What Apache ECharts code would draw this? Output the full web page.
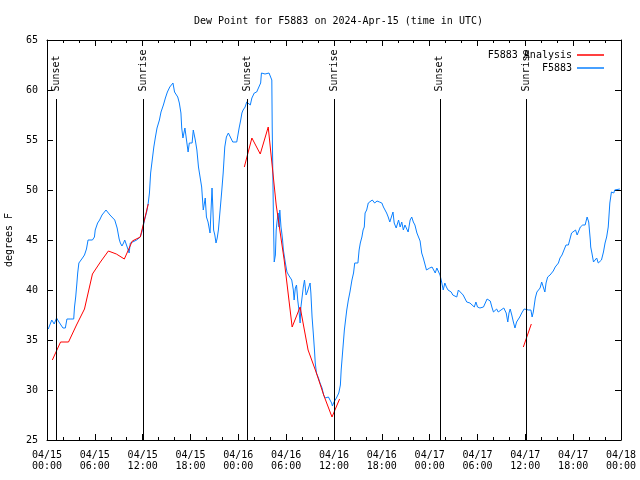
<!DOCTYPE html>
<html>
<head>
<meta charset="utf-8">
<script src="https://cdn.jsdelivr.net/npm/echarts@6/dist/echarts.min.js"></script>
<style>html,body{margin:0;padding:0;background:#fff}#c{width:640px;height:480px}</style>
</head>
<body>
<div id="c"></div>
<script>
// Hours since 2024-04-15 00:00 UTC
const obsHours = [0.16,0.4,0.6,0.9,1.2,1.5,1.75,2.0,2.3,2.5,2.9,3.35,3.45,3.6,3.75,3.85,4.0,4.2,4.45,4.7,4.95,5.15,5.4,5.7,5.95,6.05,6.35,6.6,6.9,7.4,7.9,8.5,8.8,9.05,9.2,9.4,9.6,9.75,9.95,10.1,10.3,10.45,10.75,11.25,11.7,11.9,12.1,12.3,12.5,12.7,12.85,13.0,13.2,13.4,13.6,13.8,14.1,14.3,14.6,14.85,15.1,15.4,15.8,16.0,16.2,16.4,16.6,16.8,16.9,17.05,17.2,17.3,17.4,17.5,17.7,17.85,18.0,18.2,18.35,18.45,18.6,18.8,19.0,19.2,19.4,19.6,19.75,19.85,20.0,20.2,20.45,20.7,20.8,20.9,21.05,21.2,21.35,21.5,21.7,21.9,22.1,22.3,22.5,22.75,23.0,23.3,23.8,24.1,24.3,24.45,24.6,24.85,25.05,25.25,25.5,25.7,26.0,26.3,26.55,26.8,26.9,27.1,27.35,27.6,27.85,28.0,28.2,28.25,28.4,28.5,28.65,28.75,28.85,29.0,29.1,29.2,29.3,29.35,29.45,29.55,29.65,29.9,30.1,30.3,30.5,30.7,30.9,31.0,31.15,31.3,31.45,31.6,31.75,31.85,32.0,32.15,32.3,32.5,32.65,32.85,33.0,33.1,33.25,33.4,33.55,33.65,33.8,34.05,34.25,34.5,34.7,34.9,35.1,35.3,35.5,35.7,35.8,36.0,36.15,36.3,36.6,36.8,36.9,37.1,37.3,37.45,37.6,37.8,38.0,38.25,38.45,38.6,38.8,39.0,39.15,39.3,39.5,39.65,39.8,39.9,40.1,40.3,40.5,40.8,41.1,41.4,41.7,42.0,42.2,42.4,42.6,42.8,43.0,43.2,43.4,43.55,43.8,44.1,44.3,44.5,44.7,44.9,45.1,45.3,45.55,45.75,45.95,46.15,46.4,46.6,46.8,47.0,47.2,47.4,47.6,47.8,48.0,48.3,48.5,48.7,48.9,49.1,49.3,49.5,49.7,49.9,50.1,50.3,50.7,50.9,51.4,51.6,51.8,52.2,52.65,53.05,53.3,53.6,53.8,54.0,54.3,54.75,55.2,55.6,55.8,56.0,56.4,56.6,56.8,57.3,57.6,57.8,57.95,58.1,58.3,58.5,58.7,58.9,59.1,59.3,59.55,59.85,60.1,60.4,60.7,60.85,61.0,61.25,61.45,61.65,61.85,62.05,62.25,62.45,62.6,62.8,63.1,63.3,63.5,63.75,63.95,64.15,64.35,64.6,64.8,65.1,65.4,65.6,65.8,66.0,66.3,66.5,66.7,66.9,67.2,67.5,67.75,67.95,68.15,68.2,68.35,68.55,68.75,68.95,69.15,69.35,69.55,69.8,70.0,70.2,70.4,70.6,70.8,70.95,71.1,71.2,71.45,71.85];
const obsDew = [36.1,35.9,37.0,36.6,37.2,36.8,36.7,36.2,36.2,37.1,37.1,37.1,38.3,39.3,40.7,41.7,42.7,42.9,43.2,43.5,44.1,45.0,45.2,45.0,45.3,46.0,46.7,47.0,47.5,48.0,47.5,47.0,46.2,45.1,44.7,44.4,44.7,45.0,44.9,44.2,43.7,44.7,44.8,45.0,45.3,45.8,46.5,47.2,47.8,48.7,49.7,51.7,53.0,54.3,55.3,56.2,57.0,57.8,58.5,59.2,59.8,60.3,60.7,59.8,59.8,59.3,58.7,57.7,56.2,55.2,55.3,56.2,56.3,55.0,53.8,54.7,54.8,54.7,56.0,56.2,55.0,54.0,52.3,51.3,50.3,48.0,48.7,49.2,47.3,46.8,45.7,50.2,48.3,46.0,45.5,44.7,45.2,46.0,46.0,49.7,51.7,54.3,55.3,55.7,55.5,54.8,54.8,56.2,57.0,57.7,58.0,58.3,58.8,58.7,58.5,59.2,59.7,59.8,59.8,60.7,61.7,61.8,61.6,61.8,61.7,61.6,61.0,56.3,47.3,42.8,43.5,46.0,46.8,47.7,46.3,48.0,48.0,46.3,45.7,45.0,44.0,42.7,41.8,41.5,41.3,41.0,40.0,39.0,40.2,40.5,39.0,38.0,36.7,38.3,39.3,40.3,41.0,39.5,39.8,39.8,40.7,39.7,37.3,35.7,34.0,32.7,31.7,31.2,30.7,30.2,29.5,29.2,29.0,29.3,29.0,28.7,28.4,28.8,28.7,29.2,29.7,30.5,32.0,34.0,36.0,37.0,38.0,39.0,39.8,41.0,41.7,42.7,42.8,42.7,44.0,44.7,45.3,46.0,46.3,47.7,48.0,48.7,48.9,49.0,48.7,48.9,48.8,48.7,48.3,48.0,47.7,47.3,46.8,47.3,47.8,46.7,46.2,47.0,46.3,46.8,46.0,46.5,46.3,45.8,47.0,47.3,46.8,46.5,45.7,45.5,44.9,43.7,43.2,42.6,42.0,42.1,42.2,42.3,42.3,41.7,42.2,42.0,41.5,40.8,40.0,40.7,40.3,40.0,39.8,39.5,39.3,40.0,39.8,39.5,38.8,38.7,38.8,38.3,38.8,38.3,38.2,38.3,39.1,38.9,38.3,37.8,38.1,37.8,37.8,38.2,37.7,36.8,37.7,38.1,37.5,36.8,36.2,36.8,36.8,37.3,37.7,38.1,38.2,38.0,38.0,37.3,37.8,39.2,39.8,40.0,40.2,40.8,40.7,39.8,40.7,41.3,41.5,41.7,41.9,42.3,42.5,42.7,43.2,43.5,43.7,44.5,44.5,44.7,45.7,45.8,46.0,45.5,45.5,46.3,46.5,46.5,47.3,46.8,45.0,44.3,43.7,42.8,42.7,43.2,42.7,42.7,43.0,43.8,44.7,45.3,46.3,48.7,49.8,50.0,49.7,50.0,50.1,50.1];

const anaHours = [0.67,1.7,2.7,3.7,4.7,5.7,6.7,7.7,8.7,9.7,10.7,11.7,12.7,13.2,24.75,25.7,26.75,27.75,28.75,29.75,30.75,31.75,32.75,33.75,34.75,35.75,36.7,37.2,59.75,60.75];
const anaDew = [33.0,34.8,34.8,36.5,38.1,41.6,42.8,43.9,43.6,43.1,44.9,45.3,48.6,null,52.3,55.2,53.6,56.3,48.5,43.0,36.3,38.3,34.0,31.8,29.4,27.3,29.1,null,34.3,36.6];

const sunHours = [1.13,12.08,25.13,36.05,49.27,60.14];
const sunNames = ['Sunset','Sunrise','Sunset','Sunrise','Sunset','Sunrise'];

const xTickHours = [0,6,12,18,24,30,36,42,48,54,60,66,72];
const yTicks = [25,30,35,40,45,50,55,60,65];

const FONT = 'DejaVu Sans Mono';
const pad = n => (n < 10 ? '0' : '') + n;
function xLabel(v) {
  const d = 15 + Math.floor(v / 24);
  const h = Math.round(v % 24);
  return '04/' + d + '\n' + pad(h) + ':00';
}

const obsData = obsHours.map((h, i) => [h, obsDew[i]]);
const anaData = anaHours.map((h, i) => [h, anaDew[i]]);
const sunLines = sunHours.map(h => [{coord: [h, 25]}, {coord: [h, 59.1]}]);
const sunLabels = sunHours.map((h, i) => ({value: [h, 59.75], name: sunNames[i]}));

const axisCommon = {
  axisLine: {show: true, onZero: false, lineStyle: {color: '#000', width: 1}},
  splitLine: {show: false}
};

const chart = echarts.init(document.getElementById('c'), null, {renderer: 'canvas'});
chart.setOption({
  animation: false,
  backgroundColor: '#fff',
  title: {
    text: 'Dew Point for F5883 on 2024-Apr-15 (time in UTC)',
    left: 189, top: 11,
    textStyle: {fontFamily: FONT, fontSize: 10, fontWeight: 'normal', color: '#000'}
  },
  legend: {
    data: ['F5883 Analysis', 'F5883'],
    orient: 'vertical', right: 31, top: 44, align: 'right',
    icon: 'rect', itemWidth: 27, itemHeight: 1.5, itemGap: 1,
    textStyle: {fontFamily: FONT, fontSize: 10, color: '#000', lineHeight: 12}
  },
  grid: {left: 47, right: 19, top: 40, bottom: 40, containLabel: false, outerBoundsMode: 'none'},
  xAxis: [
    Object.assign({
      type: 'value', min: 0, max: 72, interval: 6, position: 'bottom',
      axisTick: {show: true, inside: true, length: 6, lineStyle: {color: '#000'}},
      minorTick: {show: true, splitNumber: 3, length: 3, lineStyle: {color: '#000'}},
      axisLabel: {fontFamily: FONT, fontSize: 10, color: '#000', margin: 10, lineHeight: 11,
        formatter: v => (xTickHours.indexOf(v) >= 0 ? xLabel(v) : '')}
    }, axisCommon),
    Object.assign({
      type: 'value', min: 0, max: 72, interval: 6, position: 'top',
      axisTick: {show: true, inside: true, length: 6, lineStyle: {color: '#000'}},
      minorTick: {show: true, splitNumber: 3, length: 3, lineStyle: {color: '#000'}},
      axisLabel: {show: false}
    }, axisCommon)
  ],
  yAxis: [
    Object.assign({
      type: 'value', min: 25, max: 65, interval: 5, position: 'left',
      name: 'degrees F', nameLocation: 'middle', nameGap: 33, nameRotate: 90,
      nameTextStyle: {fontFamily: FONT, fontSize: 10, color: '#000'},
      axisTick: {show: true, inside: true, length: 6, lineStyle: {color: '#000'}},
      axisLabel: {fontFamily: FONT, fontSize: 10, color: '#000', margin: 9,
        formatter: v => (yTicks.indexOf(v) >= 0 ? String(v) : '')}
    }, axisCommon),
    Object.assign({
      type: 'value', min: 25, max: 65, interval: 5, position: 'right',
      axisTick: {show: true, inside: true, length: 6, lineStyle: {color: '#000'}},
      axisLabel: {show: false}
    }, axisCommon)
  ],
  series: [
    {
      name: 'F5883 Analysis', type: 'line', data: anaData,
      showSymbol: false, symbol: 'none', connectNulls: false,
      lineStyle: {color: '#ff0000', width: 1}, itemStyle: {color: '#ff0000'}, z: 3
    },
    {
      name: 'F5883', type: 'line', data: obsData,
      showSymbol: false, symbol: 'none',
      lineStyle: {color: '#0a80ff', width: 1}, itemStyle: {color: '#0a80ff'}, z: 2,
      markLine: {
        silent: true, symbol: ['none', 'none'], animation: false,
        lineStyle: {color: '#000', width: 1, type: 'solid'},
        label: {show: false},
        data: sunLines
      }
    },
    {
      name: 'sun', type: 'scatter', data: sunLabels, symbolSize: 0, silent: true,
      label: {
        show: true, position: 'inside', rotate: 90, align: 'left', verticalAlign: 'middle',
        offset: [1, 0],
        fontFamily: FONT, fontSize: 10, color: '#000', opacity: 1,
        formatter: p => p.name
      }
    }
  ]
});
</script>
</body>
</html>
